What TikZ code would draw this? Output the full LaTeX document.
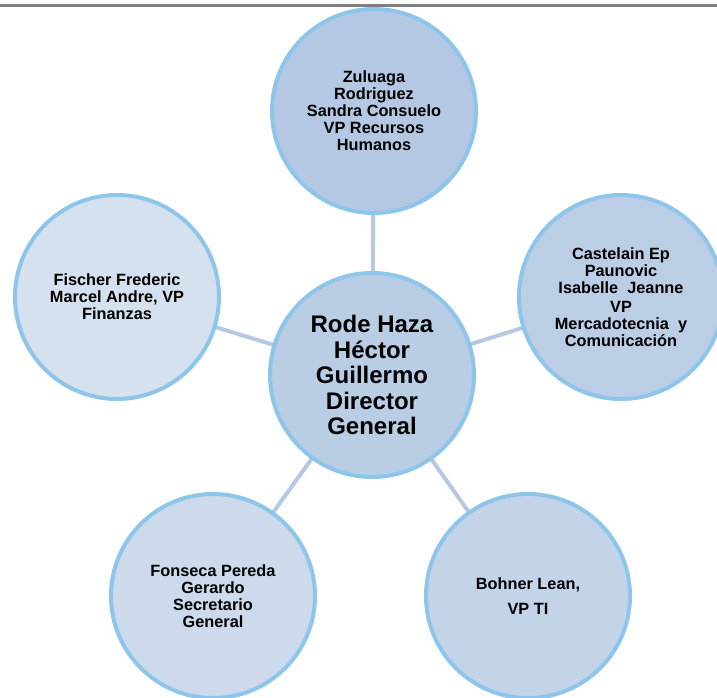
\documentclass[tikz,border=0pt]{standalone}
\usepackage{fontspec}
\setmainfont{Liberation Sans}
\usetikzlibrary{backgrounds}
\definecolor{bord}{HTML}{8DC6EA}
\definecolor{linkc}{HTML}{B7C8E2}
\definecolor{fc}{HTML}{B9CDE5}
\definecolor{ft}{HTML}{B4C8E3}
\definecolor{fr}{HTML}{BBCEE6}
\definecolor{fbr}{HTML}{C3D4E9}
\definecolor{fbl}{HTML}{CCDAEC}
\definecolor{fl}{HTML}{D5E1EF}
\definecolor{topbar}{HTML}{7F7F7F}
\begin{document}
\begin{tikzpicture}[x=1pt,y=-1pt,
  bub/.style={circle, draw=bord, line width=4pt, minimum size=204pt, inner sep=0pt, align=center,
    font=\bfseries\fontsize{16.3}{17}\selectfont},
  link/.style={draw=linkc, line width=4pt}]
\useasboundingbox (0,0) rectangle (717,698);
\clip (0,0) rectangle (717,698);
\draw[topbar, line width=3pt] (0,5.5) -- (717,5.5);
\node[bub, fill=fc, font=\bfseries\fontsize{24}{25.5}\selectfont] (c) at (372,375) {Rode Haza\\Héctor\\Guillermo\\Director\\General};
\node[bub, fill=ft] (t) at (374,111) {Zuluaga\\Rodriguez\\Sandra Consuelo\\VP Recursos\\Humanos};
\node[bub, fill=fl] (l) at (117,297) {Fischer Frederic\\Marcel Andre, VP\\Finanzas};
\node[bub, fill=fr] (r) at (621,297) {Castelain Ep\\Paunovic\\Isabelle\ \ Jeanne\\[2pt]VP\\Mercadotecnia\ \ y\\Comunicación};
\node[bub, fill=fbl] (bl) at (213,596) {Fonseca Pereda\\Gerardo\\Secretario\\General};
\node[bub, fill=fbr] (br) at (528,596) {Bohner Lean,\\[8pt]VP TI};
\begin{pgfonlayer}{background}
\draw[link] (c.center) -- (t.center);
\draw[link] (c.center) -- (l.center);
\draw[link] (c.center) -- (r.center);
\draw[link] (c.center) -- (bl.center);
\draw[link] (c.center) -- (br.center);
\end{pgfonlayer}
\end{tikzpicture}
\end{document}
